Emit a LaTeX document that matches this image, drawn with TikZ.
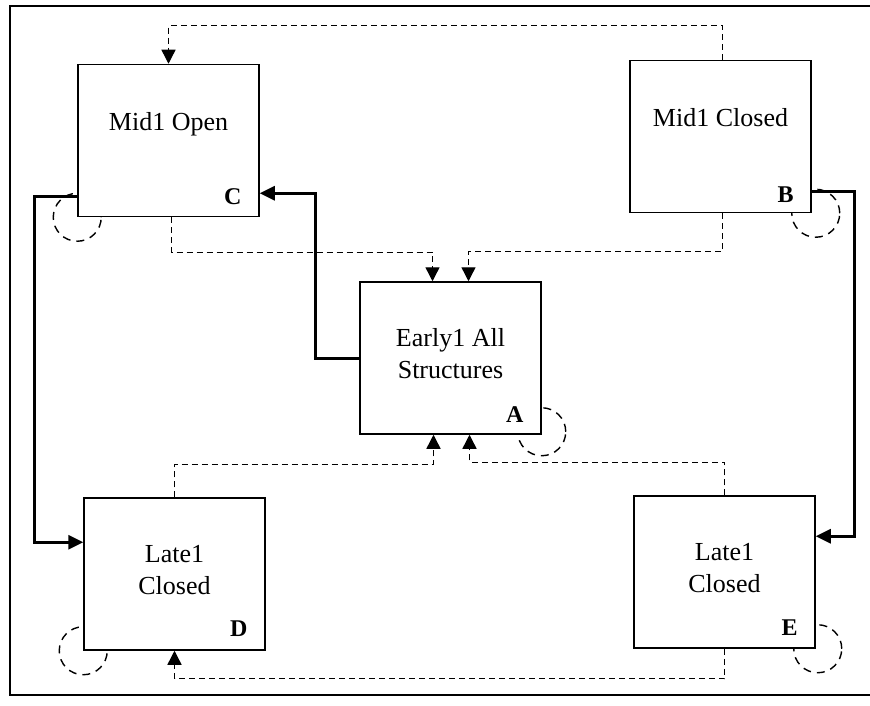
\documentclass[tikz,border=0pt]{standalone}
\usepackage{fontspec}
\setmainfont{Liberation Serif}
\usetikzlibrary{arrows.meta,backgrounds}
\tikzset{
  estado/.style = {rectangle, draw=black, line width=1.5pt, fill=white,
                   minimum width=181pt, minimum height=152pt, inner sep=0pt},
  nombre/.style = {align=center, anchor=base, inner sep=0pt,
                   font=\fontsize{26}{32}\selectfont},
  letra/.style  = {anchor=base east, inner sep=0pt,
                   font=\fontsize{24}{28}\selectfont\bfseries},
  solida/.style = {-{Triangle[length=15pt,width=14pt]}, line width=3pt},
  trazos/.style = {-{Triangle[length=14pt,width=14pt]}, line width=1.4pt,
                   dash pattern=on 6pt off 4pt},
  lazo/.style   = {line width=1.4pt, dash pattern=on 8pt off 6pt},
}
\begin{document}
\begin{tikzpicture}[x=1pt, y=-1pt]
    \useasboundingbox (0,0) rectangle (870,706);
    % --- marco
    \draw[line width=1.5pt] (870,6) -- (10,6) -- (10,695) -- (870,695);

    % --- estados
    \node[estado] (C) at (168.5,140.5) {};
    \node[estado] (B) at (720.5,136.5) {};
    \node[estado] (A) at (450.5,358) {};
    \node[estado] (D) at (174.5,574) {};
    \node[estado] (E) at (724.5,572) {};

    \node[nombre] (Ctxt) at ([yshift=9.5pt]C.center) {Mid1 Open};
    \node[nombre] (Btxt) at ([yshift=9.5pt]B.center) {Mid1 Closed};
    \node[nombre] (Atxt) at ([yshift=-20pt]A.center) {Early1 All\\Structures};
    \node[nombre] (Dtxt) at ([yshift=-20pt]D.center) {Late1\\Closed};
    \node[nombre] (Etxt) at ([yshift=-20pt]E.center) {Late1\\Closed};

    \node[letra] (Cl) at ([xshift=-18pt,yshift=13pt]C.south east) {C};
    \node[letra] (Bl) at ([xshift=-18pt,yshift=11pt]B.south east) {B};
    \node[letra] (Al) at ([xshift=-18pt,yshift=12pt]A.south east) {A};
    \node[letra] (Dl) at ([xshift=-18pt,yshift=14pt]D.south east) {D};
    \node[letra] (El) at ([xshift=-18pt,yshift=13pt]E.south east) {E};

    % --- lazos
    \begin{scope}[on background layer]
      \draw[lazo] (C.south west) circle[radius=24pt];
      \draw[lazo] ([xshift=4pt]B.south east) circle[radius=24pt];
      \draw[lazo] ([yshift=3pt]A.south east) circle[radius=24pt];
      \draw[lazo] (D.south west) circle[radius=24pt];
      \draw[lazo] ([xshift=2pt]E.south east) circle[radius=24pt];
    \end{scope}

    % --- flechas continuas
    \draw[solida] (A.west) -- ++(-44,0) |- ([yshift=24pt]C.south east);
    \draw[solida] ([yshift=21pt]C.south west) -- ++(-43,0)
                  |- ([yshift=-45pt]D.north west);
    \draw[solida] ([yshift=22pt]B.south east) -- ++(43,0)
                  |- ([yshift=-41pt]E.north east);

    % --- flechas a trazos
    \draw[trazos] ([xshift=2pt]B.north) -- ++(0,-34) -| (C.north);
    \draw[trazos] ([xshift=3pt]C.south) -- ++(0,35) -| ([xshift=-18pt]A.north);
    \draw[trazos] ([xshift=2pt]B.south) -- ++(0,38) -| ([xshift=18pt]A.north);
    \draw[trazos] (D.north) -- ++(0,-33) -| ([xshift=-17pt]A.south);
    \draw[trazos] (E.north) -- ++(0,-33) -| ([xshift=19pt]A.south);
    \draw[trazos] (E.south) -- ++(0,30) -| (D.south);
\end{tikzpicture}
\end{document}
